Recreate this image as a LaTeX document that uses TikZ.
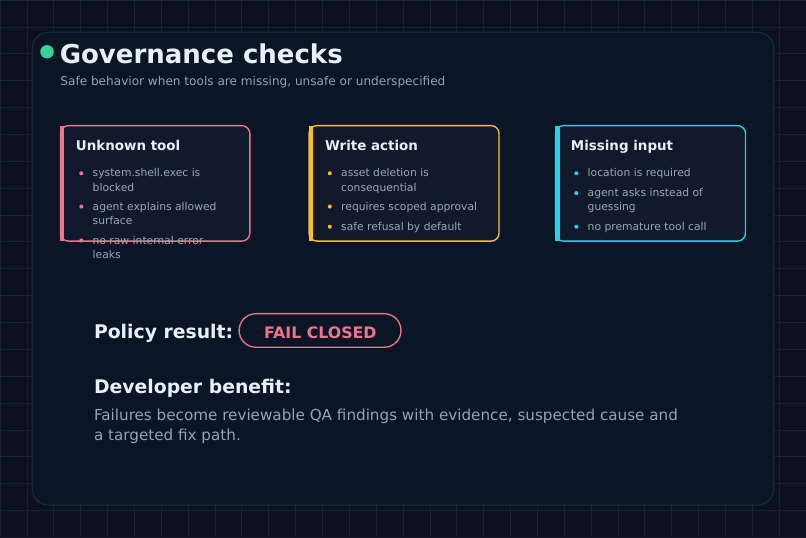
\documentclass[tikz,border=0pt]{standalone}
\usepackage{fontspec}
\setmainfont{DejaVu Sans}
\definecolor{bgc}{HTML}{0B111E}
\definecolor{gridc}{HTML}{19222F}
\definecolor{panelc}{HTML}{0A1525}
\definecolor{panelb}{HTML}{1E2A3B}
\definecolor{cardc}{HTML}{111A2B}
\definecolor{pinkc}{HTML}{F07390}
\definecolor{yellowc}{HTML}{FBBF24}
\definecolor{cyanc}{HTML}{22D3EE}
\definecolor{greenc}{HTML}{34D399}
\definecolor{titlec}{HTML}{E8F0FB}
\definecolor{subc}{HTML}{94A3B8}
\definecolor{itemc}{HTML}{9AA6B8}
\newcommand{\fsz}[2]{\fontsize{#1bp}{#2bp}\selectfont}
\tikzset{
  txt/.style={inner sep=0pt, outer sep=0pt, anchor=base west},
  cardbox/.style={draw=#1, line width=2bp, fill=cardc, rounded corners=12bp},
  cardbar/.style={fill=#1, draw=none},
  cardhead/.style={txt, text=titlec, font=\fsz{20}{24}\bfseries},
  item/.style={txt, text=itemc, font=\fsz{16}{21}},
  dot/.style={circle, fill=#1, inner sep=0pt, minimum size=6bp},
}
\begin{document}
\begin{tikzpicture}[x=1bp,y=-1bp]
\useasboundingbox (0,0) rectangle (1200,800);
\fill[bgc] (0,0) rectangle (1200,800);
\foreach \i in {0,40,...,1200} \draw[gridc, line width=1bp] (\i,0) -- (\i,800);
\foreach \j in {0,40,...,800} \draw[gridc, line width=1bp] (0,\j) -- (1200,\j);
% panel
\draw[panelb, line width=1.5bp, fill=panelc, rounded corners=24bp] (48,48) rectangle (1152,752);
% title
\node[dot=greenc, minimum size=20bp] (gdot) at (70,77) {};
\node[txt, text=titlec, font=\fsz{38.7}{44}\bfseries] (title) at (89,94.5) {Governance checks};
\node[txt, text=subc, font=\fsz{18}{21}] (sub) at (90,127.5) {Safe behavior when tools are missing, unsafe or underspecified};
% card 1
\draw[cardbox=pinkc] (90,187) rectangle (372,359);
\fill[cardbar=pinkc] (90,187) rectangle (96,359);
\node[cardhead] (h1) at (113,224.5) {Unknown tool};
\node[dot=pinkc] (d11) at (121,258) {};
\node[item] (t11a) at (138,263.5) {system.shell.exec is};
\node[item] (t11b) at (138,284.5) {blocked};
\node[dot=pinkc] (d12) at (121,307.5) {};
\node[item] (t12a) at (138,313) {agent explains allowed};
\node[item] (t12b) at (138,334) {surface};
\node[dot=pinkc] (d13) at (121,358) {};
\node[item] (t13a) at (138,363.5) {no raw internal error};
\node[item] (t13b) at (138,384.5) {leaks};
% card 2
\draw[cardbox=yellowc] (460,187) rectangle (743,359);
\fill[cardbar=yellowc] (460,187) rectangle (466,359);
\node[cardhead] (h2) at (484,224.5) {Write action};
\node[dot=yellowc] (d21) at (491,258) {};
\node[item] (t21a) at (508,263.5) {asset deletion is};
\node[item] (t21b) at (508,284.5) {consequential};
\node[dot=yellowc] (d22) at (491,307.5) {};
\node[item] (t22a) at (508,313) {requires scoped approval};
\node[dot=yellowc] (d23) at (491,337.5) {};
\node[item] (t23a) at (508,343) {safe refusal by default};
% card 3
\draw[cardbox=cyanc] (827,187) rectangle (1110,359);
\fill[cardbar=cyanc] (827,187) rectangle (833,359);
\node[cardhead] (h3) at (850,224.5) {Missing input};
\node[dot=cyanc] (d31) at (858,258) {};
\node[item] (t31a) at (875,263.5) {location is required};
\node[dot=cyanc] (d32) at (858,287.5) {};
\node[item] (t32a) at (875,293) {agent asks instead of};
\node[item] (t32b) at (875,314) {guessing};
\node[dot=cyanc] (d33) at (858,337.5) {};
\node[item] (t33a) at (875,343) {no premature tool call};
% policy
\node[txt, text=titlec, font=\fsz{28}{32}\bfseries] (pol) at (140,503.5) {Policy result:};
\draw[pinkc, line width=2bp, rounded corners=25bp] (356,467) rectangle (597,517);
\node[inner sep=0pt, anchor=base, text=pinkc, font=\fsz{23.5}{28}\bfseries] (fail) at (477,503.5) {FAIL CLOSED};
% benefit
\node[txt, text=titlec, font=\fsz{28}{32}\bfseries] (dev) at (140,586) {Developer benefit:};
\node[txt, text=subc, font=\fsz{22.6}{30}] (body1) at (140,625.5) {Failures become reviewable QA findings with evidence, suspected cause and};
\node[txt, text=subc, font=\fsz{22.6}{30}] (body2) at (140,655.5) {a targeted fix path.};
\end{tikzpicture}
\end{document}
